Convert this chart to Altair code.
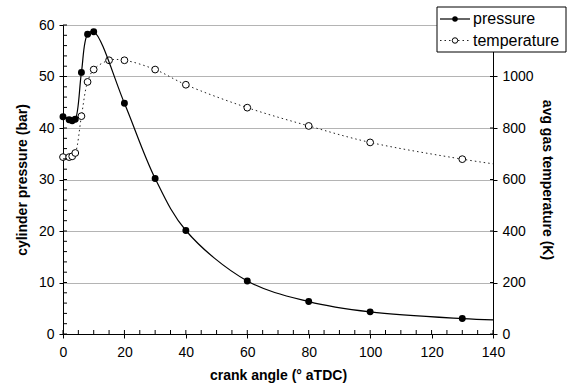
import altair as alt
import pandas as pd

# ---- data ----
p_angle = [0, 2, 3, 4, 6, 8, 10, 20, 30, 40, 60, 80, 100, 130, 140]
p_bar = [42.2, 41.6, 41.4, 41.7, 50.8, 58.2, 58.7, 44.8, 30.2, 20.1, 10.3, 6.3, 4.3, 3.0, 2.75]
t_angle = [0, 2, 3, 4, 6, 8, 10, 15, 20, 30, 40, 60, 80, 100, 130, 140]
t_K = [687, 687, 690, 703, 846, 979, 1027, 1063, 1063, 1027, 968, 879, 808, 744, 679, 661]
marker_max_angle = 130  # last point drawn with a marker

x_major = list(range(0, 141, 20))
x_minor = list(range(0, 141, 5))
yl_major = list(range(0, 61, 10))
yl_minor = list(range(0, 61, 2))
yr_major = list(range(0, 1001, 200))
legend_labels = ["pressure", "temperature"]

W, H = 430, 309
FONT = "Liberation Sans"

p_df = pd.DataFrame({"angle": p_angle, "pressure": p_bar})
t_df = pd.DataFrame({"angle": t_angle, "temp": t_K})

x_scale = alt.Scale(domain=[0, 140], nice=False, zero=False)
yl_scale = alt.Scale(domain=[0, 60], nice=False)
yr_scale = alt.Scale(domain=[0, 1200], nice=False)

x_axis = alt.Axis(values=x_major, title="crank angle (° aTDC)", grid=False,
                  tickSize=4, labelPadding=7, titlePadding=9, format="d", zindex=0)
yl_axis = alt.Axis(values=yl_major, title="cylinder pressure (bar)", grid=True,
                   gridColor="#b4b4b4", tickSize=4, labelPadding=5, titlePadding=9,
                   orient="left", format="d", zindex=0)
yr_axis = alt.Axis(values=yr_major, title="avg gas temperature (K)", grid=False,
                   tickSize=4, labelPadding=5, titlePadding=6, orient="right",
                   format="d", zindex=0)


def X(field):
    return alt.X(field, type="quantitative", scale=x_scale, axis=x_axis)


def YL(field):
    return alt.Y(field, type="quantitative", scale=yl_scale, axis=yl_axis)


def YR(field):
    return alt.Y(field, type="quantitative", scale=yr_scale, axis=yr_axis)


# pressure (left scale)
p_line = alt.Chart(p_df).mark_line(color="black", strokeWidth=1.2,
                                   interpolate="catmull-rom").encode(x=X("angle"), y=YL("pressure"))
p_pts = alt.Chart(p_df).transform_filter(f"datum.angle <= {marker_max_angle}").mark_point(
    shape="circle", filled=True, color="black", size=48, opacity=1).encode(x=X("angle"), y=YL("pressure"))

yl_ticks = alt.Chart(pd.DataFrame({"v": yl_minor})).mark_rule(color="black", strokeWidth=1).encode(
    y=YL("v"), x=alt.value(0), x2=alt.value(4))
x_ticks = alt.Chart(pd.DataFrame({"a": x_minor})).mark_rule(color="black", strokeWidth=1).encode(
    x=X("a"), y=alt.value(H), y2=alt.value(H - 4))

# temperature (right scale)
t_line = alt.Chart(t_df).mark_line(color="#222", strokeWidth=1, strokeDash=[1.5, 3],
                                   interpolate="catmull-rom").encode(x=X("angle"), y=YR("temp"))
t_pts = alt.Chart(t_df).transform_filter(f"datum.angle <= {marker_max_angle}").mark_point(
    shape="circle", filled=True, fill="white", stroke="black", strokeWidth=1, size=46,
    opacity=1).encode(x=X("angle"), y=YR("temp"))
yr_ticks = alt.Chart(pd.DataFrame({"v": yr_major})).mark_rule(color="black", strokeWidth=1).encode(
    y=YR("v"), x=alt.value(W - 3), x2=alt.value(W))

# legend (drawn by hand)
one = alt.Data(values=[{}])
leg_box = alt.Chart(one).mark_rect(fill="white", stroke="black", strokeWidth=1).encode(
    x=alt.value(374), x2=alt.value(503), y=alt.value(-18), y2=alt.value(27))
row_y = [-6, 15.5]
leg_layers = [leg_box]
for i, lab in enumerate(legend_labels):
    ld = pd.DataFrame({"label": [lab]})
    if i == 0:
        ln = alt.Chart(ld).mark_rule(color="black", strokeWidth=1.2).encode(
            x=alt.value(377), x2=alt.value(407), y=alt.value(row_y[i]))
        dot = alt.Chart(ld).mark_point(shape="circle", filled=True, color="black", size=30,
                                       opacity=1).encode(x=alt.value(392), y=alt.value(row_y[i]))
    else:
        ln = alt.Chart(ld).mark_rule(color="#222", strokeWidth=1, strokeDash=[1.5, 3]).encode(
            x=alt.value(377), x2=alt.value(407), y=alt.value(row_y[i]))
        dot = alt.Chart(ld).mark_point(shape="circle", filled=True, fill="white", stroke="black",
                                       strokeWidth=1, size=30, opacity=1).encode(
            x=alt.value(392), y=alt.value(row_y[i]))
    txt = alt.Chart(ld).mark_text(align="left", baseline="middle", font=FONT, fontSize=16,
                                  color="black").encode(
        x=alt.value(410), y=alt.value(row_y[i]), text="label:N")
    leg_layers += [ln, dot, txt]

left = alt.layer(yl_ticks, x_ticks, p_line, p_pts)
right = alt.layer(t_line, t_pts, yr_ticks, *leg_layers)

chart = alt.layer(right, left).resolve_scale(y="independent").properties(
    width=W, height=H,
    autosize=alt.AutoSizeParams(type="none"),
    padding={"left": 63, "top": 25, "right": 75, "bottom": 54},
    background="white",
).configure_view(stroke=None).configure_axis(
    labelFont=FONT, titleFont=FONT, labelFontSize=14, titleFontSize=14,
    titleFontWeight="bold", labelColor="black", titleColor="black",
    domainColor="black", tickColor="black", labelFlush=False, labelOverlap=False,
)

chart.save("out.html", embed_options={"renderer": "svg", "actions": False})
